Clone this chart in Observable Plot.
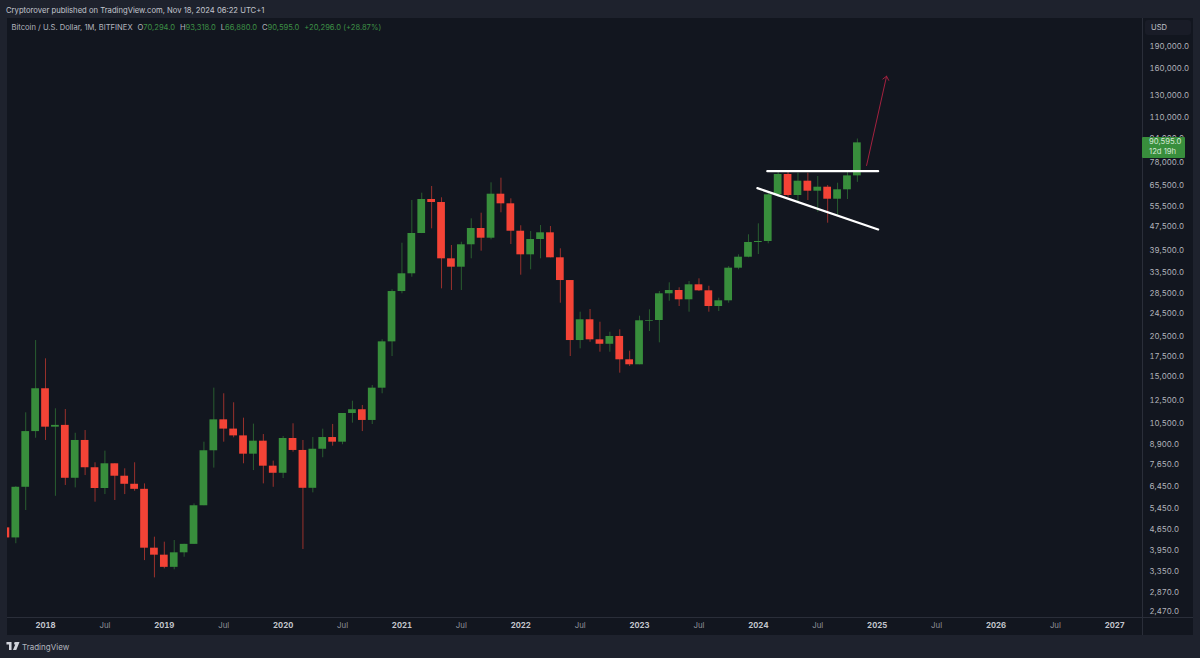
<!DOCTYPE html>
<html>
<head>
<meta charset="utf-8">
<script src="https://cdn.jsdelivr.net/npm/d3@7"></script>
<script src="https://cdn.jsdelivr.net/npm/@observablehq/plot@0.6"></script>
<style>
  html,body{margin:0;padding:0;background:#1e222d;overflow:hidden}
  #page{position:relative;width:1200px;height:658px;font-family:Inter,"Noto Sans",sans-serif;color:#b2b5be}
  .abs{position:absolute;white-space:nowrap}
  svg{position:absolute;left:0;top:0}
  #legend span{margin-left:4.9px}
  #legend i{font-style:normal;color:#3d8f45}
</style>
</head>
<body>
<div id="page">
  <div class="abs" style="left:7px;top:18px;width:1186px;height:617px;background:#12161f"></div>
  <div class="abs" style="left:1142px;top:18px;width:1px;height:617px;background:#2a2e39"></div>
  <div class="abs" style="left:7px;top:617px;width:1186px;height:1px;background:#2a2e39"></div>
  <div class="abs" style="left:6px;top:5px;font-size:7.66px;line-height:12px;color:#c3c6cd">Cryptorover published on TradingView.com, Nov 18, 2024 06:22 UTC+1</div>
  <div class="abs" id="legend" style="left:11.5px;top:22px;font-size:7.6px;line-height:12px"></div>
  <div class="abs" style="left:1145px;top:20px;width:46px;height:15px;background:#191c27;border-radius:3px;font-size:7.6px;line-height:15px;text-indent:6px;color:#c3c6cd">USD</div>
  <div id="chart"></div>
  <div class="abs" id="tag" style="left:1142px;width:36px;height:20.5px;background:#388e3c;border-radius:1px;color:#d5e8d6;font-size:7.7px;line-height:10px;padding:0.5px 0 0 7px"></div>
  <svg class="abs" style="left:6px;top:642px" width="14" height="8" viewBox="0 0 36 22"><path fill="#d1d4dc" d="M0 0h14v22H7V7H0zM25 0a4 4 0 1 1 0 8 4 4 0 0 1 0-8zM27 0h9l-9 22h-9z"/></svg>
  <div class="abs" style="left:22px;top:640px;font-size:8px;line-height:14px;color:#b2b5be">TradingView</div>
</div>
<script>
// Monthly candles, Sep 2017 to Nov 2024
const opens = [4700,4350,6420,9850,13690,10190,10330,6880,9200,7460,6360,7690,6990,6570,6320,4020,3810,3470,3880,4140,5570,8500,10780,10040,9530,8280,9150,7550,7150,9340,8520,6370,8600,9410,9080,11320,11650,10730,13750,19630,28900,33120,45140,58620,57280,37160,34840,41390,46910,43540,61060,56710,45940,38320,43100,45380,37450,31450,19830,23260,19940,19270,20460,17100,16460,23010,23130,28400,29130,27120,30430,29060,25755,26910,34580,37620,42130,42450,60780,71040,60450,67475,62480,64430,58750,63160,70294];
const highs = [4700,6450,11380,19830,17230,11735,11670,9725,9930,7750,8475,7690,7400,7750,6590,4375,4210,4265,4145,5650,9080,13755,13170,12290,10920,10430,9630,7850,9480,10460,9200,9410,10035,10405,11320,12440,12040,14040,19950,29290,41900,58170,61530,64790,59400,41170,42220,50530,52770,66650,69060,58930,47900,45840,48000,47630,40130,31450,24660,25170,22830,21140,21530,18270,23910,25110,28910,30900,29740,31210,31860,30100,27460,35030,38320,44690,48630,61500,73260,73260,71760,71760,69960,65290,66440,72310,93318];
const lows = [4350,4160,5370,9360,9200,5990,6510,6390,7025,5725,6070,5800,6070,6225,3655,3200,3430,3405,3750,4140,5570,7440,9080,9390,7690,7300,6590,6420,6865,8410,3980,6150,8055,8805,8900,10510,9850,10400,13170,17540,28400,32260,45100,46790,29500,29130,29130,37160,39400,43000,52930,41480,32770,34150,37160,37450,26420,17540,18600,19570,18130,18130,15430,16245,16460,21255,19480,26825,25755,24660,28910,24660,24790,26420,34150,37450,38410,41710,59660,59660,56710,58170,53170,48860,51840,58620,66880];
const closes = [4350,6420,9850,13690,10190,10330,6880,9200,7460,6360,7690,6990,6570,6320,4020,3810,3470,3880,4140,5570,8500,10780,10040,9530,8280,9150,7550,7150,9340,8520,6370,8600,9410,9080,11320,11650,10730,13750,19630,28900,33120,45140,58620,57280,37160,34840,41390,46910,43540,61060,56710,45940,38320,43100,45380,37450,31450,19830,23260,19940,19270,20460,17100,16460,23080,23130,28400,29130,27120,30430,29060,25755,26910,34580,37620,42130,42450,60780,71040,60450,67475,62480,64430,58750,63160,70294,90595];
const firstMonth = -4; // months from Jan 2018

// Price axis labels
const priceTicks = [190000,160000,130000,110000,94000,78000,65500,55500,47500,39500,33500,28500,24500,20500,17500,15000,12500,10500,8900,7650,6450,5450,4650,3950,3350,2870,2470];

// Time axis labels (months from Jan 2018)
const yearTicks = [0,12,24,36,48,60,72,84,96,108];
const yearLabels = ["2018","2019","2020","2021","2022","2023","2024","2025","2026","2027"];
const julTicks = [6,18,30,42,54,66,78,90,102];

// Drawn annotations: [month, price]
const resistance = [[72.9,72860],[84.1,72860]];
const support = [[71.9,63960],[84.1,46550]];
const arrowFrom = [82.93,76130];
const arrowTo = [84.95,151220];

const candles = opens.map((o,i)=>({
  m:firstMonth+i, o, h:highs[i], l:lows[i], c:closes[i], dir:closes[i]>=o?"up":"down"
}));

const chart = Plot.plot({
  width:1200, height:658,
  marginLeft:7, marginRight:58, marginTop:18, marginBottom:41,
  style:{background:"transparent",fontFamily:"Inter,'Noto Sans',sans-serif"},
  x:{type:"linear",domain:[-3.84,110.8]},
  y:{type:"log",domain:[2360,235600]},
  color:{domain:["up","down"],range:["#388e3c","#f44336"]},
  marks:[
    Plot.ruleX(candles,{x:"m",y1:"l",y2:"h",stroke:"dir",strokeWidth:1,strokeOpacity:0.6,clip:"frame"}),
    Plot.rect(candles,{x1:d=>d.m-0.39,x2:d=>d.m+0.39,y1:d=>Math.min(d.o,d.c),y2:d=>Math.max(d.o,d.c),fill:"dir",clip:"frame"}),
    Plot.line(resistance,{x:d=>d[0],y:d=>d[1],stroke:"#ffffff",strokeWidth:2.2}),
    Plot.line(support,{x:d=>d[0],y:d=>d[1],stroke:"#ffffff",strokeWidth:2.2}),
    Plot.arrow([{a:arrowFrom,b:arrowTo}],{x1:d=>d.a[0],y1:d=>d.a[1],x2:d=>d.b[0],y2:d=>d.b[1],stroke:"#a3213f",strokeWidth:1,bend:0,headLength:7,headAngle:80}),
    Plot.axisY(priceTicks,{anchor:"right",tickSize:0,tickPadding:7,tickFormat:d3.format(",.1f"),label:null,fontSize:7.8,color:"#b2b5bc"}),
    Plot.axisX(yearTicks,{anchor:"bottom",tickSize:0,tickPadding:5,tickFormat:d=>yearLabels[yearTicks.indexOf(d)],label:null,fontSize:7.8,fontWeight:700,color:"#c3c6cd"}),
    Plot.axisX(julTicks,{anchor:"bottom",tickSize:0,tickPadding:5,tickFormat:()=>"Jul",label:null,fontSize:7.8,color:"#8f929a"})
  ]
});
document.getElementById("chart").appendChild(chart);

// Price tag sits on the last close, through the chart's own scale
const last = candles[candles.length-1];
const tag = document.getElementById("tag");
tag.style.top = (chart.scale("y").apply(last.c)-5.5)+"px";
tag.innerHTML = d3.format(",.1f")(last.c)+"<br>12d 19h";

// OHLC legend
const f = d3.format(",.1f");
document.getElementById("legend").innerHTML =
  "Bitcoin / U.S. Dollar, 1M, BITFINEX<span>O<i>"+f(last.o)+"</i></span><span>H<i>"+f(last.h)+"</i></span><span>L<i>"+f(last.l)+"</i></span><span>C<i>"+f(last.c)+"</i></span><span><i>+20,296.0 (+28.87%)</i></span>";
</script>
</body>
</html>
